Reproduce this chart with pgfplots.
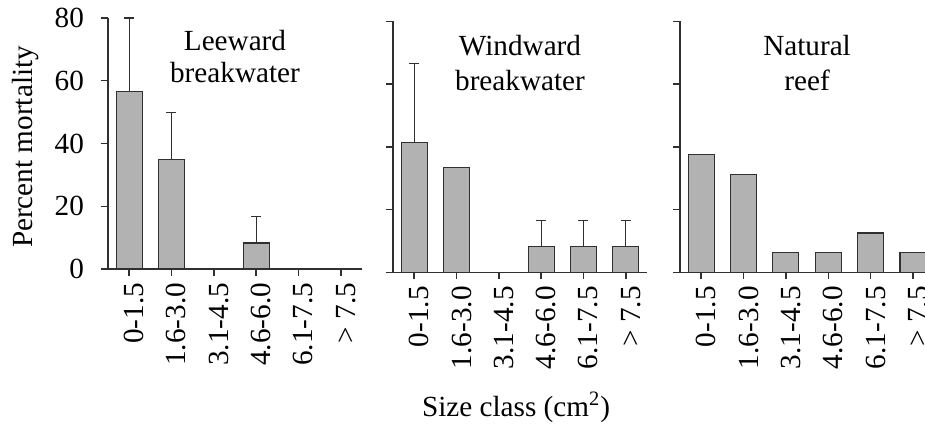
\documentclass[border=0pt]{standalone}
\usepackage{fontspec}
\setmainfont{Liberation Serif}
\usepackage{pgfplots}
\pgfplotsset{compat=1.18}
\definecolor{barfill}{HTML}{B2B2B2}
\definecolor{edge}{HTML}{303030}
\newcommand{\bigfont}{\fontsize{14.6}{17}\selectfont}
\pgfplotsset{
 panel/.style={
  scale only axis, width=127pt, height=125.5pt,
  xmin=-0.5, xmax=5.5, ymin=0, ymax=80,
  axis x line*=bottom, axis y line*=left,
  axis line style={edge, -, line width=0.7pt},
  xtick={0,...,5},
  xticklabels={0-1.5,1.6-3.0,3.1-4.5,4.6-6.0,6.1-7.5,{> 7.5}},
  xticklabel style={rotate=90, anchor=east, yshift=-2.5pt},
  yticklabel style={xshift=-5pt},
  ytick={0,20,40,60,80},
  tick align=outside, major tick length=3.5pt,
  tick style={edge, line width=0.7pt},
  font=\bigfont,
  /pgf/number format/assume math mode=true,
  anchor=south west,
 },
 bars/.style={ybar, bar width=13pt, bar shift=0pt, fill=barfill, draw=edge, line width=0.6pt},
 errs/.style={forget plot, draw=none, mark=none,
  error bars/.cd, y dir=plus, y explicit, error mark=|,
  error bar style={draw=edge, line width=0.6pt, solid},
  error mark options={draw=edge, line width=0.6pt, mark size=2.5pt}},
}
\begin{document}
\begin{tikzpicture}
\path[use as bounding box] (0,0) rectangle (462.5pt,211.5pt);
% Leeward breakwater
\begin{axis}[panel, at={(54pt,77pt)}, clip=false]
\addplot[bars] coordinates {(0,56.5) (1,35) (3,8.3)};
\addplot[errs] coordinates {(0,56.5) +- (0,23.5) (1,35) +- (0,15) (3,8.3) +- (0,8.4)};
\draw[edge, line width=0.7pt] (axis cs:-0.5,0) -- ++(-3pt,0);
\node[anchor=base] at (axis cs:2.5,69.8) {Leeward};
\node[anchor=base] at (axis cs:2.5,59.3) {breakwater};
\end{axis}
% Windward breakwater
\begin{axis}[panel, at={(196.5pt,75.35pt)}, yticklabels={}]
\addplot[bars] coordinates {(0,41.5) (1,33.3) (3,8.3) (4,8.3) (5,8.3)};
\addplot[errs] coordinates {(0,41.5) +- (0,25.1) (3,8.3) +- (0,8.3) (4,8.3) +- (0,8.3) (5,8.3) +- (0,8.3)};
\node[anchor=base] at (axis cs:2.5,69.1) {Windward};
\node[anchor=base] at (axis cs:2.5,58.0) {breakwater};
\end{axis}
% Natural reef
\begin{axis}[panel, at={(340pt,75.35pt)}, width=122.8pt, xmax=5.3, yticklabels={}]
\addplot[bars] coordinates {(0,37.5) (1,31.25) (2,6.25) (3,6.25) (4,12.5) (5,6.25)};
\node[anchor=base] at (axis cs:2.5,69.1) {Natural};
\node[anchor=base] at (axis cs:2.5,58.0) {reef};
\end{axis}
\node[rotate=90, anchor=base, font=\bigfont] at (16pt,138pt) {Percent mortality};
\node[anchor=base, font=\bigfont] at (258pt,3.5pt) {Size class (cm\textsuperscript{2})};
\end{tikzpicture}
\end{document}
